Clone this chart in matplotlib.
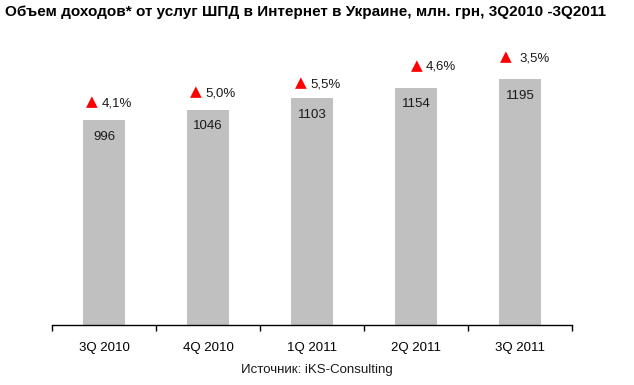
import matplotlib
matplotlib.use('Agg')
import matplotlib.pyplot as plt
import numpy as np

plt.rcParams['font.family'] = ['Liberation Sans Narrow', 'Liberation Sans', 'DejaVu Sans']

quarters = ['3Q 2010', '4Q 2010', '1Q 2011', '2Q 2011', '3Q 2011']
revenue = [996, 1046, 1103, 1154, 1195]
growth = ['4,1%', '5,0%', '5,5%', '4,6%', '3,5%']

# hand placement of growth labels (points): triangle dx, text dx, dy
tri_dx = [-9, -9, -8, 1, -10]
txt_dx = [-2, -2, -1, 7, 0]
lab_dy = [12, 12, 10, 15, 15]

fig = plt.figure(figsize=(6.34, 3.85), dpi=100)
ax = fig.add_axes([0.082, 0.156, 0.82, 0.748])

x = np.arange(len(quarters))
ax.bar(x, revenue, width=0.4, color='#c0c0c0', zorder=2)
ax.set_xlim(-0.5, len(quarters) - 0.5)
ax.set_ylim(0, 1400)

for i, v in enumerate(revenue):
    ax.annotate(str(v), (i, v), xytext=(0, -12), textcoords='offset points',
                ha='center', va='center', fontsize=9.5, color='#1a1a1a')
    ax.annotate('\u25B2', (i, v), xytext=(tri_dx[i], lab_dy[i] + 1), textcoords='offset points',
                ha='center', va='center', fontsize=11, color='#ff0000',
                family=['DejaVu Sans'])
    ax.annotate(growth[i], (i, v), xytext=(txt_dx[i], lab_dy[i]), textcoords='offset points',
                ha='left', va='center', fontsize=9.5, color='#1a1a1a')

for s in ['top', 'right', 'left']:
    ax.spines[s].set_visible(False)
ax.spines['bottom'].set_color('black')
ax.spines['bottom'].set_linewidth(1.0)
ax.set_yticks([])

ax.set_xticks(np.arange(len(quarters) + 1) - 0.5)
ax.set_xticklabels([])
ax.tick_params(axis='x', which='major', direction='out', length=4, width=1)
ax.set_xticks(x, minor=True)
ax.set_xticklabels(quarters, minor=True, fontsize=9.5)
ax.tick_params(axis='x', which='minor', length=0, pad=12)

fig.text(0.008, 0.968, 'Объем доходов* от услуг ШПД в Интернет в Украине, млн. грн, 3Q2010 -3Q2011',
         fontsize=11, fontweight='bold', ha='left', va='center')
fig.text(0.5, 0.04, 'Источник: iKS-Consulting', fontsize=9.5, ha='center', va='center', color='#1a1a1a')

fig.savefig('out.png', dpi=100)
